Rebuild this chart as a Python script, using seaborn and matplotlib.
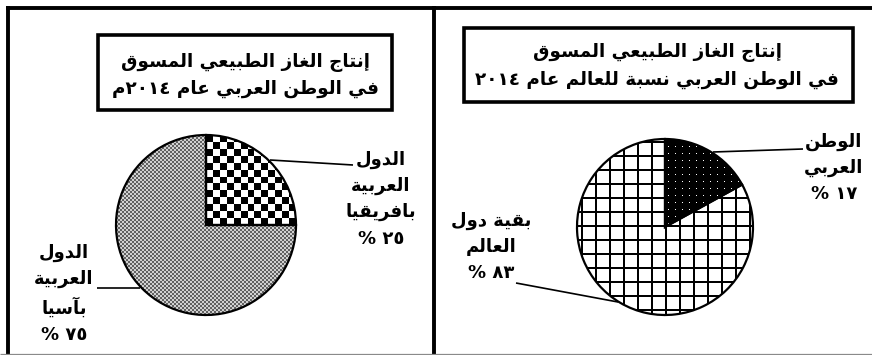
import re
import numpy as np
import matplotlib
matplotlib.use("Agg")
import matplotlib.pyplot as plt
from matplotlib.patches import Rectangle
from matplotlib.lines import Line2D
import seaborn as sns

# ---------------- data ----------------
left_title = ["إنتاج الغاز الطبيعي المسوق", "في الوطن العربي عام ٢٠١٤م"]
left_labels = ["الدول\nالعربية\nبافريقيا", "الدول\nالعربية\nبآسيا"]
left_values = [25, 75]

right_title = ["إنتاج الغاز الطبيعي المسوق", "في الوطن العربي نسبة للعالم عام ٢٠١٤"]
right_labels = ["الوطن\nالعربي", "بقية دول\nالعالم"]
right_values = [17, 83]

# ---------------- simple Arabic shaping (matplotlib has no complex text layout) -------------
FORMS = {
    '\u0622': (0xFE81, 2), '\u0623': (0xFE83, 2), '\u0625': (0xFE87, 2), '\u0627': (0xFE8D, 2),
    '\u0628': (0xFE8F, 4), '\u0629': (0xFE93, 2), '\u062A': (0xFE95, 4), '\u062C': (0xFE9D, 4),
    '\u062F': (0xFEA9, 2), '\u0631': (0xFEAD, 2), '\u0632': (0xFEAF, 2), '\u0633': (0xFEB1, 4),
    '\u0637': (0xFEC1, 4), '\u0639': (0xFEC9, 4), '\u063A': (0xFECD, 4), '\u0641': (0xFED1, 4),
    '\u0642': (0xFED5, 4), '\u0644': (0xFEDD, 4), '\u0645': (0xFEE1, 4), '\u0646': (0xFEE5, 4),
    '\u0648': (0xFEED, 2), '\u064A': (0xFEF1, 4),
}
LAM_ALEF = {'\u0622': 0xFEF5, '\u0623': 0xFEF7, '\u0625': 0xFEF9, '\u0627': 0xFEFB}


def shape(s):
    toks, i = [], 0
    while i < len(s):
        c = s[i]
        if c == '\u0644' and i + 1 < len(s) and s[i + 1] in LAM_ALEF:
            toks.append(('LA', s[i + 1])); i += 2
        else:
            toks.append(('C', c)); i += 1

    def is_ar(t):
        return t[0] == 'LA' or t[1] in FORMS

    def joins_next(t):
        return t[0] == 'C' and t[1] in FORMS and FORMS[t[1]][1] == 4

    out = []
    for k, t in enumerate(toks):
        prev = toks[k - 1] if k > 0 else None
        nxt = toks[k + 1] if k + 1 < len(toks) else None
        jp = prev is not None and joins_next(prev) and is_ar(t)
        jn = joins_next(t) and nxt is not None and is_ar(nxt)
        if t[0] == 'LA':
            out.append(chr(LAM_ALEF[t[1]] + (1 if jp else 0)))
        elif t[1] in FORMS:
            base, nf = FORMS[t[1]]
            if nf == 2:
                out.append(chr(base + (1 if jp else 0)))
            else:
                off = 3 if (jp and jn) else 1 if jp else 2 if jn else 0
                out.append(chr(base + off))
        else:
            out.append(t[1])
    return ''.join(out)


def visual_line(s):
    runs = re.findall(r'[0-9\u0660-\u0669]+|[^0-9\u0660-\u0669]+', shape(s))
    return ''.join(r if r[0].isdigit() else r[::-1] for r in reversed(runs))


def visual(s):
    return '\n'.join(visual_line(l) for l in s.split('\n'))


def ar_digits(v):
    return ''.join(chr(0x0660 + int(d)) for d in str(v))


# ---------------- figure ----------------
sns.set_theme(style="white")
plt.rcParams['font.family'] = ['DejaVu Sans']
W, H = 872, 355
fig = plt.figure(figsize=(W / 100, H / 100), dpi=100)
fig.patch.set_facecolor('white')


def fx(px):
    return px / W


def fy(py):
    return 1 - py / H


def fline(xs, ys, lw=1.2, color='black'):
    fig.add_artist(Line2D([fx(x) for x in xs], [fy(y) for y in ys], transform=fig.transFigure,
                          color=color, lw=lw, solid_capstyle='butt'))


def frect(x0, y0, x1, y1, lw):
    fig.add_artist(Rectangle((fx(x0), fy(y1)), fx(x1) - fx(x0), fy(y0) - fy(y1),
                             transform=fig.transFigure, fill=False, ec='black', lw=lw))


def ftext(x, y, s, size=11, ha='center', va='center', ls=1.45):
    fig.text(fx(x), fy(y), visual(s), ha=ha, va=va, fontsize=size, fontweight='bold',
             multialignment='center', linespacing=ls, color='black')


# panel frames
fline([5.5, 872], [7.5, 7.5], lw=2.8)
fline([7.5, 7.5], [5.5, 355], lw=2.8)
fline([433.5, 433.5], [5.5, 355], lw=2.8)
fline([0, 872], [354, 354], lw=0.9, color='#8a8a8a')

# title boxes
frect(98, 35, 392, 110, 2.6)
ftext(245, 62, left_title[0], size=13.2)
ftext(245, 89, left_title[1], size=13.2)
frect(464, 28, 853, 102, 2.6)
ftext(657, 53, right_title[0], size=13.2)
ftext(657, 80, right_title[1], size=13.2)


def pie_axes(cx, cy, r):
    half = 100
    ax = fig.add_axes([fx(cx - half), fy(cy + half), 2 * half / W, 2 * half / H])
    return ax, half / r


def add_pattern(ax, wedge, arr, cmap='gray', vmin=0, vmax=1):
    im = ax.imshow(arr, extent=(-1, 1, -1, 1), origin='lower', cmap=cmap, vmin=vmin, vmax=vmax,
                   interpolation='nearest', zorder=1)
    im.set_clip_path(wedge)


# ---- left pie ----
axL, limL = pie_axes(206, 225, 90)
wL, _ = axL.pie(left_values, startangle=90, counterclock=False, radius=1,
                colors=['none', 'none'],
                wedgeprops=dict(edgecolor='black', linewidth=1.6, zorder=3))
axL.set_xlim(-limL, limL); axL.set_ylim(-limL, limL); axL.axis('off')
n = 26
ii, jj = np.meshgrid(np.arange(n), np.arange(n))
add_pattern(axL, wL[0], ((ii + jj) % 2).astype(float))
n = 90
ii, jj = np.meshgrid(np.arange(n), np.arange(n))
add_pattern(axL, wL[1], np.where((ii + jj) % 2 == 0, 0.38, 0.82))

ftext(381, 199, left_labels[0] + "\n" + ar_digits(left_values[0]) + " %", size=13, ls=1.58)
ftext(64, 294, left_labels[1] + "\n" + ar_digits(left_values[1]) + " %", size=13, ls=1.58)
fline([270, 353], [160, 165])
fline([97, 140], [288, 288])

# ---- right pie ----
axR, limR = pie_axes(665, 227, 88)
wR, _ = axR.pie(right_values, startangle=90, counterclock=False, radius=1,
                colors=['none', 'none'],
                wedgeprops=dict(edgecolor='black', linewidth=1.6, zorder=3))
axR.set_xlim(-limR, limR); axR.set_ylim(-limR, limR); axR.axis('off')
n = 176
ii, jj = np.meshgrid(np.arange(n), np.arange(n))
dots = (((ii - 88) % 7 == 3) & ((jj - 88) % 7 == 3)).astype(float)
add_pattern(axR, wR[0], dots)
grid = np.ones((n, n))
grid[((ii - 88) % 14 < 2) | ((jj - 88) % 14 < 2)] = 0
add_pattern(axR, wR[1], grid)

ftext(834, 168, right_labels[0] + "\n" + ar_digits(right_values[0]) + " %", size=13, ls=1.58)
ftext(491, 247, right_labels[1] + "\n" + ar_digits(right_values[1]) + " %", size=13, ls=1.58)
fline([713, 803], [152, 149])
fline([516, 618], [283, 302])

fig.savefig("out.png", dpi=100, facecolor='white')
